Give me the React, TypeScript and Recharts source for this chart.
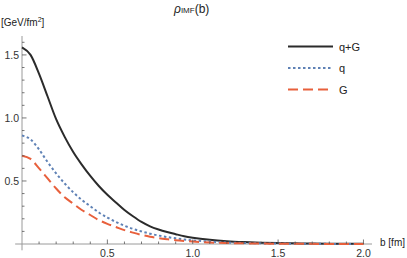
import React from 'react';
import { LineChart, Line, XAxis, YAxis, ReferenceLine } from 'recharts';

const bValues = [0, 0.05, 0.1, 0.15, 0.2, 0.25, 0.3, 0.35, 0.4, 0.45, 0.5, 0.55, 0.6, 0.65, 0.7, 0.75, 0.8, 0.85, 0.9, 0.95, 1.0, 1.1, 1.2, 1.3, 1.4, 1.5, 1.6, 1.7, 1.8, 1.9, 2.0];
const qgValues = [1.56, 1.5, 1.35, 1.17, 0.99, 0.85, 0.73, 0.63, 0.54, 0.46, 0.39, 0.33, 0.27, 0.22, 0.175, 0.14, 0.115, 0.095, 0.078, 0.062, 0.05, 0.033, 0.022, 0.015, 0.01, 0.007, 0.005, 0.003, 0.002, 0.0015, 0.001];
const qValues = [0.86, 0.83, 0.75, 0.65, 0.56, 0.48, 0.41, 0.35, 0.3, 0.25, 0.21, 0.175, 0.145, 0.12, 0.1, 0.082, 0.067, 0.055, 0.045, 0.036, 0.029, 0.019, 0.012, 0.008, 0.005, 0.0035, 0.0025, 0.0015, 0.001, 0.0005, 0];
const gValues = [0.7, 0.675, 0.6, 0.52, 0.44, 0.37, 0.32, 0.27, 0.23, 0.19, 0.16, 0.135, 0.11, 0.09, 0.072, 0.058, 0.047, 0.038, 0.03, 0.024, 0.019, 0.012, 0.008, 0.005, 0.0035, 0.0025, 0.0015, 0.001, 0.0005, 0.0003, 0];

const xTicks = [0.1, 0.2, 0.3, 0.4, 0.5, 0.6, 0.7, 0.8, 0.9, 1.0, 1.1, 1.2, 1.3, 1.4, 1.5, 1.6, 1.7, 1.8, 1.9, 2.0];
const yTicks = [0.1, 0.2, 0.3, 0.4, 0.5, 0.6, 0.7, 0.8, 0.9, 1.0, 1.1, 1.2, 1.3, 1.4, 1.5, 1.6];

const data = bValues.map((b, i) => ({ b, qg: qgValues[i], q: qValues[i], g: gValues[i] }));

const FONT = 'Liberation Sans, Arial, sans-serif';
const AXIS = '#9a9a9a';
const BLACK = '#2b2b2b';
const BLUE = '#5e81b5';
const RED = '#e8603c';

const isMajor = (v: number) => Math.abs(v * 2 - Math.round(v * 2)) < 1e-6;

// ticks drawn inward like Mathematica; axis x/y come from the tick props
const renderXTick = (props: any) => {
  const { x, y, payload } = props;
  const major = isMajor(payload.value);
  return (
    <g>
      <line x1={x} x2={x} y1={y} y2={y - (major ? 4.5 : 2.5)} stroke="#555" strokeWidth={0.8} />
      {major && (
        <text x={x} y={y + 13} textAnchor="middle" fontSize={10.5} fontFamily={FONT} fill="#333">
          {payload.value.toFixed(1)}
        </text>
      )}
    </g>
  );
};

const renderYTick = (props: any) => {
  const { x, y, payload } = props;
  const major = isMajor(payload.value);
  return (
    <g>
      <line x1={x} x2={x + (major ? 4.5 : 2.5)} y1={y} y2={y} stroke="#555" strokeWidth={0.8} />
      {major && (
        <text x={x - 3} y={y + 3.8} textAnchor="end" fontSize={10.5} fontFamily={FONT} fill="#333">
          {payload.value.toFixed(1)}
        </text>
      )}
    </g>
  );
};

const legendItems = [
  { label: 'q+G', color: BLACK, dash: undefined },
  { label: 'q', color: BLUE, dash: '2.5 2.5' },
  { label: 'G', color: RED, dash: '10 5' },
];

export default function App() {
  return (
    <div style={{ position: 'relative', width: 407, height: 258, background: '#fff', fontFamily: FONT }}>
      <style>{`body{margin:0}`}</style>
      <LineChart width={407} height={258} data={data} margin={{ top: 36, right: 35, bottom: 0, left: 0 }}>
        <XAxis
          dataKey="b"
          type="number"
          domain={[0, 2.05]}
          ticks={xTicks}
          height={14}
          axisLine={false}
          tickLine={false}
          tickSize={0}
          tickMargin={0}
          tick={renderXTick}
          interval={0}
        />
        <YAxis
          type="number"
          domain={[0, 1.65]}
          ticks={yTicks}
          width={22}
          axisLine={false}
          tickLine={false}
          tickSize={0}
          tickMargin={0}
          tick={renderYTick}
          interval={0}
        />
        <ReferenceLine segment={[{ x: -0.04, y: 0 }, { x: 2.05, y: 0 }]} stroke={AXIS} strokeWidth={1} ifOverflow="visible" />
        <ReferenceLine segment={[{ x: 0, y: -0.05 }, { x: 0, y: 1.65 }]} stroke={AXIS} strokeWidth={1} ifOverflow="visible" />
        <Line dataKey="qg" type="monotone" stroke={BLACK} strokeWidth={2} dot={false} isAnimationActive={false} />
        <Line dataKey="q" type="monotone" stroke={BLUE} strokeWidth={2} strokeDasharray="2.5 2.5" dot={false} isAnimationActive={false} />
        <Line dataKey="g" type="monotone" stroke={RED} strokeWidth={2} strokeDasharray="10 5" dot={false} isAnimationActive={false} />
      </LineChart>
      <div style={{ position: 'absolute', left: 174, top: 2, fontSize: 12, color: '#222', whiteSpace: 'nowrap' }}>
        <i>ρ</i>
        <span style={{ fontSize: 8 }}>IMF</span>
        (b)
      </div>
      <div style={{ position: 'absolute', left: 1, top: 16, fontSize: 10, color: '#222', whiteSpace: 'nowrap' }}>
        [GeV/fm<sup style={{ fontSize: 7 }}>2</sup>]
      </div>
      <div style={{ position: 'absolute', left: 380, top: 237, fontSize: 10, color: '#222', whiteSpace: 'nowrap' }}>
        b [fm]
      </div>
      <svg width={80} height={70} style={{ position: 'absolute', left: 288, top: 36 }}>
        {legendItems.map((it, i) => (
          <g key={it.label}>
            <line x1={0} x2={45} y1={10.5 + i * 21.5} y2={10.5 + i * 21.5} stroke={it.color} strokeWidth={2} strokeDasharray={it.dash} />
            <text x={51} y={14.5 + i * 21.5} fontSize={11} fontFamily={FONT} fill="#222">
              {it.label}
            </text>
          </g>
        ))}
      </svg>
    </div>
  );
}
